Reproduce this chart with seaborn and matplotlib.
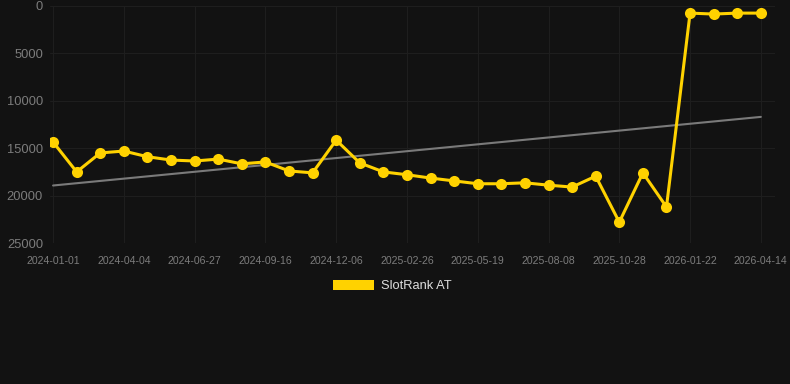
import numpy as np
import pandas as pd
import matplotlib
matplotlib.use("Agg")
import matplotlib.pyplot as plt
import seaborn as sns
from matplotlib.patches import Patch

# dates (every third one is shown on the axis)
dates = ["2024-01-01", "2024-01-31", "2024-03-03", "2024-04-04", "2024-05-02", "2024-05-30",
         "2024-06-27", "2024-07-24", "2024-08-20", "2024-09-16", "2024-10-13", "2024-11-09",
         "2024-12-06", "2025-01-02", "2025-01-30", "2025-02-26", "2025-03-25", "2025-04-22",
         "2025-05-19", "2025-06-15", "2025-07-12", "2025-08-08", "2025-09-04", "2025-10-01",
         "2025-10-28", "2025-11-25", "2025-12-24", "2026-01-22", "2026-02-18", "2026-03-17",
         "2026-04-14"]
rank = [14350, 17500, 15500, 15300, 15900, 16250, 16350, 16150, 16650, 16450, 17400, 17600,
        14150, 16550, 17500, 17800, 18150, 18450, 18750, 18750, 18650, 18900, 19100, 17950,
        22800, 17600, 21200, 750, 850, 750, 750]

df = pd.DataFrame({"date": dates, "rank": rank})
df["idx"] = np.arange(len(df))

# linear trend of the ranking
coef = np.polyfit(df["idx"], df["rank"], 1)
df["trend"] = np.polyval(coef, df["idx"])

bg = "#121212"
yellow = "#FFD200"

sns.set_style("dark")
plt.rcParams["font.family"] = ["Liberation Sans", "DejaVu Sans"]
fig = plt.figure(figsize=(7.9, 3.84), dpi=100, facecolor=bg)
ax = fig.add_axes([50 / 790, 1 - 243 / 384, 725 / 790, 237 / 384])
ax.set_facecolor(bg)

sns.lineplot(data=df, x="idx", y="trend", color="#7a7a7a", linewidth=1.5, ax=ax)
sns.lineplot(data=df, x="idx", y="rank", color=yellow, linewidth=2.2,
             marker="o", markersize=8, markeredgewidth=0, ax=ax)

ax.set_ylim(25000, 0)
ax.set_xlim(-0.13, 30.6)
ax.set_yticks([0, 5000, 10000, 15000, 20000, 25000])
ax.set_xticks(df["idx"][::3])
ax.set_xticklabels(df["date"][::3])
ax.tick_params(axis="y", colors="#7c7c7c", labelsize=9.3, length=0, pad=5)
ax.tick_params(axis="x", colors="#7c7c7c", labelsize=7.6, length=0, pad=9)
ax.grid(True, color="#1e1e1e", linewidth=0.8)
ax.set_xlabel("")
ax.set_ylabel("")
for s in ax.spines.values():
    s.set_visible(False)

handles = [Patch(facecolor=yellow, edgecolor="none", label="SlotRank AT")]
fig.legend(handles=handles, loc="center", bbox_to_anchor=(392 / 790, 1 - 286 / 384),
           frameon=False, fontsize=9.3, labelcolor="#dddddd",
           handlelength=3.2, handleheight=0.9, handletextpad=0.5)

fig.savefig("out.png", dpi=100, facecolor=bg)
